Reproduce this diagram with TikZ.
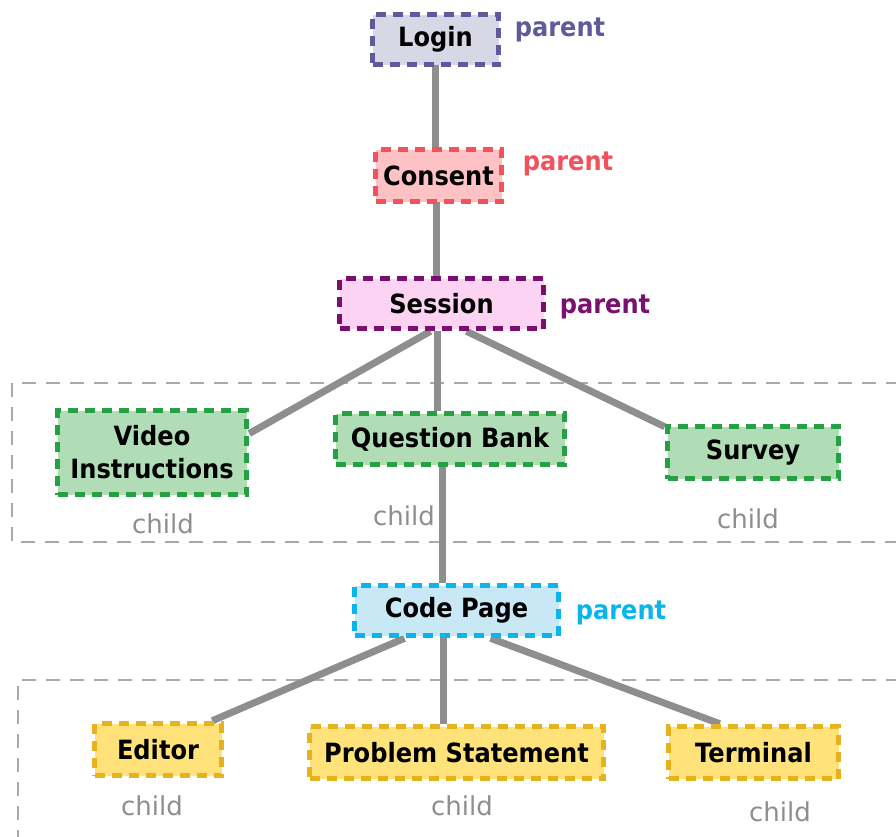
\documentclass[tikz,border=0pt]{standalone}
\usepackage{fontspec}
\setmainfont{DejaVu Sans}
\newfontfamily\boxfont{DejaVu Sans}[FakeStretch=0.91]
\usetikzlibrary{calc,backgrounds}
\definecolor{edgegray}{HTML}{8E8E8E}
\definecolor{grpgray}{HTML}{AAAAAA}
\definecolor{loginfill}{HTML}{D8D7E6}
\definecolor{logindraw}{HTML}{5E5A9C}
\definecolor{consentfill}{HTML}{FFC2C4}
\definecolor{consentdraw}{HTML}{F2515E}
\definecolor{sessfill}{HTML}{FCD3F2}
\definecolor{sessdraw}{HTML}{7B0F6E}
\definecolor{greenfill}{HTML}{B0DDB5}
\definecolor{greendraw}{HTML}{25A044}
\definecolor{codefill}{HTML}{C7E8F4}
\definecolor{codedraw}{HTML}{0BB5EC}
\definecolor{yelfill}{HTML}{FFE27A}
\definecolor{yeldraw}{HTML}{E6B21E}
\tikzset{
  box/.style={rectangle, inner sep=0pt, line width=5.5pt, dash pattern=on 10pt off 7pt,
    font=\boxfont\bfseries\fontsize{26.5}{33}\selectfont, align=center, text=black},
  edge/.style={draw=edgegray, line width=7pt},
  grp/.style={draw=grpgray, line width=1.5pt, dash pattern=on 14pt off 10pt},
  parentlbl/.style={inner sep=0pt, font=\boxfont\bfseries\fontsize{26.5}{33}\selectfont},
  childlbl/.style={inner sep=0pt, text=edgegray, font=\fontsize{26}{33}\selectfont},
}
\begin{document}
\begin{tikzpicture}[x=1pt,y=-1pt]
\useasboundingbox (0,0) rectangle (896,836);

\node[box, fill=loginfill, draw=logindraw, minimum width=126pt, minimum height=50pt] (login) at (435.5,39.5) {Login};
\node[parentlbl, text=logindraw] (plogin) at (560,30) {parent};

\node[box, fill=consentfill, draw=consentdraw, minimum width=126pt, minimum height=52pt] (consent) at (438.5,175.5) {Consent};
\node[parentlbl, text=consentdraw] (pconsent) at (568,164) {parent};

\node[box, fill=sessfill, draw=sessdraw, minimum width=204pt, minimum height=50pt] (sess) at (441.5,303.5) {Session};
\node[parentlbl, text=sessdraw] (psess) at (605,307) {parent};

\node[box, fill=greenfill, draw=greendraw, minimum width=189pt, minimum height=84pt] (video) at (152,452.5) {Video\\Instructions};
\node[childlbl] (cvideo) at (163,524) {child};

\node[box, fill=greenfill, draw=greendraw, minimum width=229pt, minimum height=51pt] (qbank) at (450,439) {Question Bank};
\node[childlbl] (cqbank) at (404,516) {child};

\node[box, fill=greenfill, draw=greendraw, minimum width=171pt, minimum height=52pt] (survey) at (753,452.5) {Survey};
\node[childlbl] (csurvey) at (748,519) {child};

\node[box, fill=codefill, draw=codedraw, minimum width=204pt, minimum height=50pt] (code) at (456.5,610.5) {Code Page};
\node[parentlbl, text=codedraw] (pcode) at (621,613) {parent};

\node[box, fill=yelfill, draw=yeldraw, minimum width=127pt, minimum height=52pt] (editor) at (158,749.5) {Editor};
\node[childlbl] (ceditor) at (152,806) {child};

\node[box, fill=yelfill, draw=yeldraw, minimum width=294pt, minimum height=52pt] (problem) at (456.5,752.5) {Problem Statement};
\node[childlbl] (cproblem) at (462,806) {child};

\node[box, fill=yelfill, draw=yeldraw, minimum width=170pt, minimum height=52pt] (terminal) at (753.5,752.5) {Terminal};
\node[childlbl] (cterminal) at (780,812) {child};

\coordinate (g1tr) at (900,383);
\coordinate (g1tl) at (12,383);
\coordinate (g1bl) at (12,542);
\coordinate (g1br) at (900,542);
\coordinate (g2tr) at (900,680);
\coordinate (g2tl) at (18,680);
\coordinate (g2bl) at (18,840);

\begin{scope}[on background layer]
\fill[white] (0,0) rectangle (896,836);
\draw[grp] (g1tr) -- (g1tl) -- (g1bl) -- (g1br);
\draw[grp] (g2tr) -- (g2tl) -- (g2bl);
\draw[edge] (login.center) -- (login.center |- consent.center);
\draw[edge] ($(consent.center)+(-2.5,0)$) -- ($(sess.center)+(-5.5,0)$);
\draw[edge] ($(sess.south)+(-11,0)$) -- ($(video.east)+(0,-19)$);
\draw[edge] ($(sess.south)+(-4.5,0)$) -- ($(qbank.north)+(-13,0)$);
\draw[edge] ($(sess.south)+(25,0)$) -- ($(survey.north west)+(0,3)$);
\draw[edge] ($(qbank.south)+(-8,0)$) -- ($(code.north)+(-14.5,0)$);
\draw[edge] ($(code.south)+(-52,0)$) -- ($(editor.north east)+(-12,0)$);
\draw[edge] ($(code.south)+(-13,0)$) -- ($(problem.north)+(-13,0)$);
\draw[edge] ($(code.south)+(34,0)$) -- ($(terminal.north west)+(54,0)$);
\end{scope}
\end{tikzpicture}
\end{document}
